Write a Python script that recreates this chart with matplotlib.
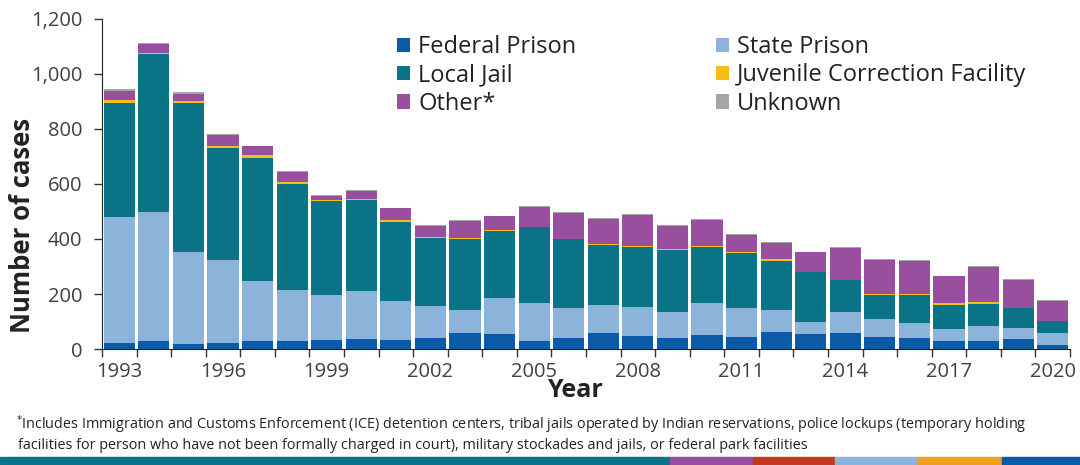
import matplotlib
matplotlib.use("Agg")
import matplotlib.pyplot as plt
from matplotlib.patches import Rectangle, Patch
import numpy as np

plt.rcParams["font.family"] = ["Open Sans", "DejaVu Sans"]

years = [1993, 1994, 1995, 1996, 1997, 1998, 1999, 2000, 2001, 2002,
         2003, 2004, 2005, 2006, 2007, 2008, 2009, 2010, 2011, 2012,
         2013, 2014, 2015, 2016, 2017, 2018, 2019, 2020]
federal = [23, 28, 19, 23, 28, 28, 31, 35, 34, 39, 58, 56, 30, 39,
           58, 46, 39, 51, 42, 63, 55, 59, 44, 39, 30, 30, 35, 15]
state = [458, 470, 333, 299, 220, 188, 164, 176, 139, 119, 83, 131, 136, 111,
         103, 107, 97, 115, 108, 79, 44, 74, 64, 57, 41, 55, 41, 44]
local_jail = [415, 573, 542, 409, 448, 384, 344, 331, 289, 246, 259, 241, 276, 249,
              218, 217, 223, 204, 200, 178, 181, 118, 88, 100, 90, 80, 73, 42]
juvenile = [9, 7, 9, 6, 8, 9, 3, 5, 7, 3, 4, 3, 1, 1,
            4, 3, 5, 4, 1, 6, 1, 1, 5, 5, 5, 5, 1, 1]
other = [33, 30, 23, 41, 33, 35, 16, 29, 43, 40, 61, 51, 73, 96,
         91, 115, 83, 96, 64, 61, 71, 116, 124, 119, 99, 128, 101, 74]
unknown = [6, 5, 7, 2, 2, 2, 2, 2, 2, 3, 3, 3, 3, 2,
           2, 3, 3, 2, 2, 2, 2, 2, 2, 2, 2, 2, 2, 2]

series = [
    ("Federal Prison", federal, "#0b5aa8"),
    ("State Prison", state, "#8cb3d9"),
    ("Local Jail", local_jail, "#0b7386"),
    ("Juvenile Correction Facility", juvenile, "#f6bd16"),
    ("Other*", other, "#984f9e"),
    ("Unknown", unknown, "#a5a5a5"),
]

fig = plt.figure(figsize=(10.8, 4.65), dpi=100)
ax = fig.add_axes([102 / 1080, 116 / 465, 968 / 1080, 330 / 465])

x = np.arange(len(years))
bottom = np.zeros(len(years))
for name, vals, col in series:
    ax.bar(x, vals, width=0.9, bottom=bottom, color=col, linewidth=0)
    bottom += np.array(vals)

ax.set_xlim(-0.5, len(years) - 0.5)
ax.set_ylim(0, 1200)
ax.set_yticks(range(0, 1201, 200))
ax.set_yticklabels([f"{v:,}" for v in range(0, 1201, 200)], fontsize=14.5, color="#404040")

# tick marks at bar edges, labels every 3 years at bar centres
ax.set_xticks(np.arange(len(years) + 1) - 0.5)
ax.set_xticklabels([])
ax.tick_params(axis="x", which="major", length=6, width=1, color="#333333")
lab_idx = [i for i, y in enumerate(years) if (y - 1993) % 3 == 0]
ax.set_xticks(lab_idx, minor=True)
ax.set_xticklabels([str(years[i]) for i in lab_idx], minor=True, fontsize=14.5, color="#404040")
ax.tick_params(axis="x", which="minor", length=0, pad=9)
ax.tick_params(axis="y", length=6, width=1, color="#333333", pad=8)

for s in ["top", "right"]:
    ax.spines[s].set_visible(False)
ax.spines["left"].set_color("#222222")
ax.spines["bottom"].set_color("#222222")

fig.text(23 / 1080, 1 - 225 / 465, "Number of cases", fontsize=18.5, fontweight="bold",
         color="#222222", rotation=90, ha="center", va="center")
fig.text(575 / 1080, 1 - 390 / 465, "Year", fontsize=18, fontweight="bold",
         color="#222222", ha="center", va="center")

# legend: column-wise order
order = [0, 2, 4, 1, 3, 5]
handles = [Patch(facecolor=series[i][2], label=series[i][0]) for i in order]
fig.legend(handles=handles, ncol=2, loc="upper left", bbox_to_anchor=(376 / 1080, 1 - 14 / 465),
           frameon=False, fontsize=17, handlelength=0.55, handleheight=0.55, handletextpad=0.35,
           labelspacing=0.18, columnspacing=5.9, labelcolor="#222222")

fig.text(16 / 1080, 1 - 425 / 465,
         r"$^{*}$Includes Immigration and Customs Enforcement (ICE) detention centers, tribal jails operated by Indian reservations, police lockups (temporary holding",
         fontsize=10.4, color="#222222", va="center", ha="left")
fig.text(18 / 1080, 1 - 445 / 465,
         "facilities for person who have not been formally charged in court), military stockades and jails, or federal park facilities",
         fontsize=10.4, color="#222222", va="center", ha="left")

# coloured strip along the bottom
strip = [(0, 670, "#0b7386"), (670, 753, "#984f9e"), (753, 835, "#bf3a23"),
         (835, 918, "#8cb3d9"), (918, 1002, "#f0a020"), (1002, 1080, "#0b5aa8")]
for x0, x1, c in strip:
    fig.patches.append(Rectangle((x0 / 1080, 0), (x1 - x0) / 1080, 8 / 465,
                                 transform=fig.transFigure, color=c, zorder=5))

fig.savefig("out.png", dpi=100)
